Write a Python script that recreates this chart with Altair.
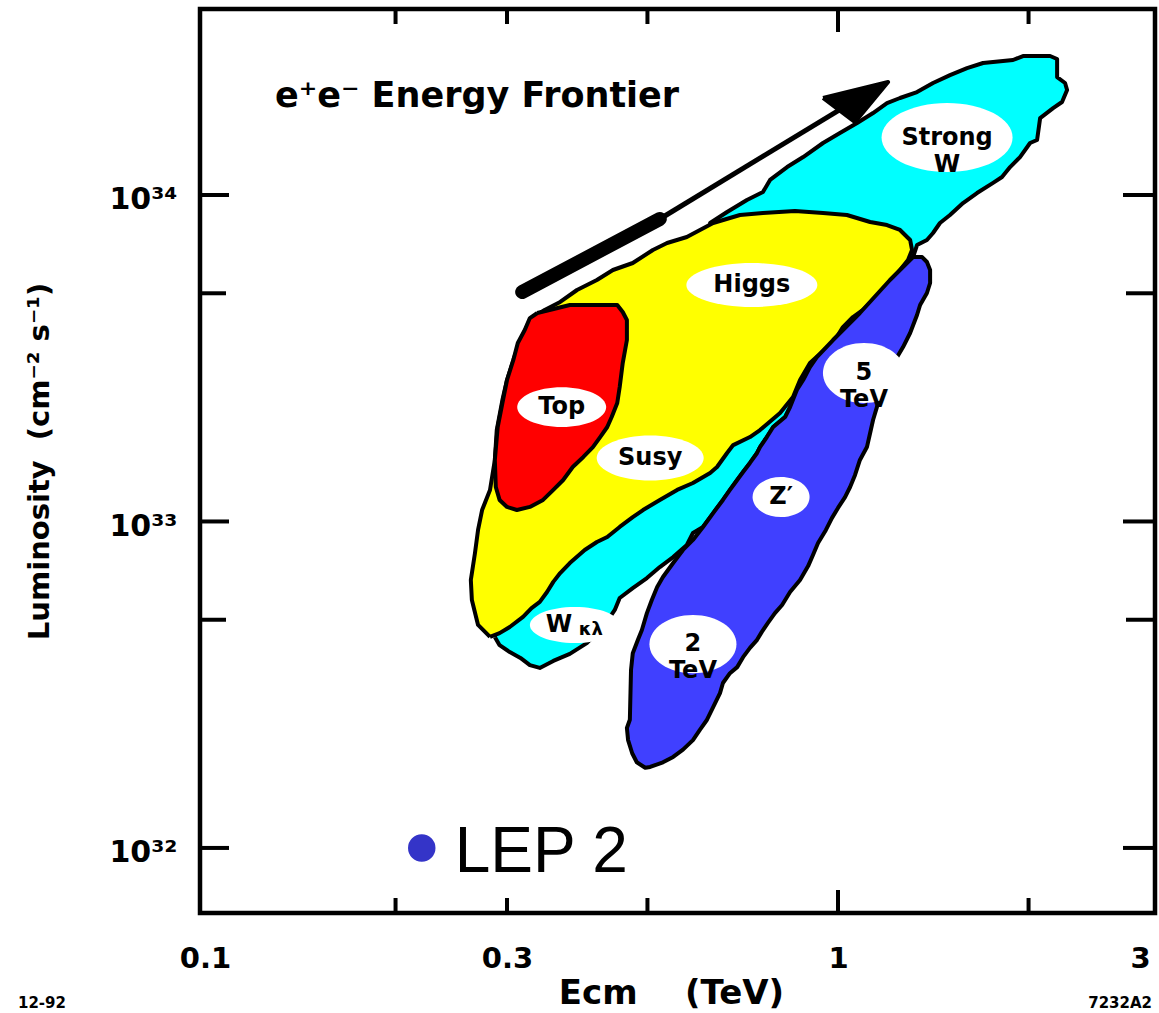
import altair as alt
import pandas as pd

# ---------------- data: E_cm in TeV, luminosity in units of 1e33 cm^-2 s^-1 ----------------
cyan_E = [0.287, 0.292, 0.303, 0.315, 0.326, 0.338, 0.355, 0.377, 0.401, 0.428, 0.444, 0.452,
          0.474, 0.499, 0.523, 0.549, 0.577, 0.590, 0.612, 0.635, 0.658, 0.675, 0.693, 0.708,
          0.726, 0.745, 0.753, 0.772, 0.790, 0.825, 0.840, 0.861, 0.881, 0.903, 0.926, 0.982,
          1.083, 1.208, 1.276, 1.314, 1.333, 1.382, 1.413, 1.449, 1.503, 1.576, 1.658, 1.758,
          1.816, 1.870, 1.939, 2.011, 2.063, 2.086, 2.187, 2.259, 2.301, 2.284, 2.219, 2.219,
          2.163, 1.960, 1.890, 1.695, 1.599, 1.503, 1.413, 1.333, 1.253, 1.195, 1.136, 1.072,
          1.007, 0.947, 0.881, 0.831, 0.781, 0.761, 0.718, 0.668, 0.628, 0.639, 0.421, 0.342,
          0.292]
cyan_L = [0.443, 0.418, 0.398, 0.382, 0.363, 0.356, 0.374, 0.393, 0.424, 0.482, 0.536, 0.583,
          0.625, 0.671, 0.725, 0.778, 0.847, 0.922, 0.962, 1.061, 1.164, 1.249, 1.340, 1.418,
          1.511, 1.621, 1.690, 1.814, 1.947, 2.089, 2.241, 2.528, 2.712, 2.972, 3.189, 3.596,
          4.351, 5.491, 6.102, 6.456, 7.027, 7.281, 7.649, 8.208, 8.682, 9.451, 10.14, 10.89,
          11.35, 12.18, 13.07, 14.43, 14.74, 17.20, 18.46, 19.27, 20.97, 22.03, 22.97, 26.09,
          26.65, 26.65, 25.91, 25.37, 24.48, 23.30, 22.03, 20.67, 19.82, 19.13, 17.83, 16.61,
          15.48, 14.43, 13.07, 12.18, 11.12, 10.21, 9.654, 8.869, 8.208, 7.281, 3.859, 1.656,
          0.575]

yellow_E = [0.282, 0.270, 0.264, 0.263, 0.267, 0.270, 0.274, 0.282, 0.287, 0.289, 0.295, 0.300,
            0.307, 0.315, 0.326, 0.344, 0.364, 0.387, 0.416, 0.441, 0.474, 0.510, 0.537, 0.577,
            0.635, 0.700, 0.761, 0.855, 0.947, 1.033, 1.124, 1.195, 1.253, 1.300, 1.309, 1.290,
            1.253, 1.217, 1.178, 1.136, 1.095, 1.056, 1.018, 0.989, 0.944, 0.903, 0.871, 0.849,
            0.810, 0.753, 0.726, 0.683, 0.668, 0.644, 0.628, 0.590, 0.557, 0.523, 0.492, 0.474,
            0.452, 0.432, 0.416, 0.398, 0.377, 0.364, 0.355, 0.347, 0.338, 0.328, 0.318, 0.303,
            0.292]
yellow_L = [0.443, 0.482, 0.575, 0.662, 0.801, 0.942, 1.084, 1.249, 1.543, 1.906, 2.355, 2.712,
            3.123, 3.596, 4.141, 4.444, 4.702, 5.117, 5.491, 5.892, 6.190, 6.785, 7.128, 7.437,
            8.208, 8.682, 8.807, 8.932, 8.807, 8.682, 8.266, 8.091, 7.813, 7.281, 6.785, 6.323,
            5.892, 5.491, 5.117, 4.769, 4.444, 4.229, 3.940, 3.596, 3.305, 3.057, 2.712, 2.405,
            2.149, 1.906, 1.814, 1.714, 1.621, 1.468, 1.408, 1.312, 1.249, 1.164, 1.084, 1.031,
            0.962, 0.896, 0.865, 0.818, 0.746, 0.695, 0.653, 0.608, 0.567, 0.543, 0.510, 0.475,
            0.455]

red_E = [0.335, 0.377, 0.448, 0.457, 0.464, 0.464, 0.457, 0.452, 0.448, 0.439, 0.432, 0.421,
         0.410, 0.396, 0.381, 0.368, 0.355, 0.342, 0.326, 0.311, 0.300, 0.292, 0.288, 0.287,
         0.290, 0.295, 0.300, 0.307, 0.312, 0.320, 0.326]
red_L = [4.351, 4.603, 4.603, 4.381, 4.141, 3.596, 3.057, 2.581, 2.306, 2.089, 1.947, 1.814,
         1.690, 1.576, 1.468, 1.340, 1.249, 1.164, 1.108, 1.084, 1.108, 1.164, 1.275, 1.543,
         1.947, 2.306, 2.712, 3.123, 3.521, 3.859, 4.198]

blue_E = [1.314, 1.358, 1.382, 1.398, 1.398, 1.382, 1.348, 1.333, 1.300, 1.267, 1.240, 1.195,
          1.152, 1.136, 1.124, 1.111, 1.083, 1.064, 1.045, 1.026, 1.000, 0.978, 0.957, 0.930,
          0.913, 0.897, 0.871, 0.840, 0.816, 0.795, 0.775, 0.758, 0.745, 0.726, 0.708, 0.693,
          0.675, 0.658, 0.651, 0.635, 0.621, 0.605, 0.590, 0.569, 0.549, 0.529, 0.505, 0.496,
          0.481, 0.473, 0.466, 0.464, 0.469, 0.471, 0.474, 0.483, 0.490, 0.499, 0.508, 0.518,
          0.529, 0.549, 0.569, 0.590, 0.612, 0.635, 0.658, 0.675, 0.693, 0.708, 0.726, 0.745,
          0.753, 0.772, 0.790, 0.825, 0.840, 0.861, 0.881, 0.903, 0.926, 0.982, 1.083, 1.208,
          1.276]
blue_L = [6.456, 6.456, 6.234, 5.892, 5.376, 5.010, 4.603, 4.289, 3.778, 3.422, 3.189, 2.655,
          2.241, 2.046, 1.866, 1.690, 1.543, 1.388, 1.275, 1.188, 1.100, 1.024, 0.942, 0.859,
          0.789, 0.730, 0.662, 0.608, 0.555, 0.524, 0.489, 0.459, 0.434, 0.410, 0.384, 0.358,
          0.343, 0.320, 0.298, 0.270, 0.247, 0.230, 0.214, 0.200, 0.190, 0.183, 0.177, 0.176,
          0.183, 0.195, 0.214, 0.233, 0.247, 0.351, 0.395, 0.434, 0.465, 0.524, 0.575, 0.630,
          0.676, 0.746, 0.818, 0.878, 0.962, 1.061, 1.164, 1.249, 1.340, 1.418, 1.511, 1.621,
          1.690, 1.814, 1.947, 2.089, 2.241, 2.528, 2.712, 2.972, 3.189, 3.596, 4.351, 5.491,
          6.102]

label_text = ["Strong\nW", "Higgs", "Top", "Susy", "5\nTeV", "Z\u2032", "2\nTeV"]
label_E = [1.487, 0.731, 0.366, 0.505, 1.099, 0.813, 0.590]
label_L = [15.0, 5.30, 2.24, 1.564, 2.85, 1.188, 0.421]

wkl_E = [0.384]
wkl_L = [0.482]

arrow_thick_E = [0.317, 0.523]
arrow_thick_L = [5.045, 8.443]
arrow_thin_E = [0.523, 1.004]
arrow_thin_L = [8.443, 18.21]
arrow_head_E = [0.947, 1.200, 1.064]
arrow_head_L = [19.82, 22.18, 16.73]

lep_E = [0.22]
lep_L = [0.1]

x_tick_labels = [0.1, 0.3, 1, 3]
x_minor_ticks = [0.2, 0.3, 0.5, 2]
x_major_ticks = [1]
y_major_ticks = [0.1, 1, 10]
y_minor_ticks = [0.5, 5]

# ---------------- styles ----------------
W, H = 955, 904
FONT = "DejaVu Sans"
ell_w = [131, 131, 89, 107, 82, 57, 87]
ell_h = [69, 44, 40, 45, 60, 40, 58]
wkl_w, wkl_h = 90, 36

xscale = alt.Scale(type="log", domain=[0.0982, 3.168], nice=False)
yscale = alt.Scale(type="log", domain=[0.0632, 37.13], nice=False)

xaxis = alt.Axis(values=x_tick_labels, format="~g", labelFlush=False, labelOverlap=False,
                 ticks=False, domain=False, grid=False, labelPadding=31,
                 labelFont=FONT, labelFontWeight="bold", labelFontSize=29, labelColor="black",
                 title="Ecm\u00a0\u00a0\u00a0\u00a0(TeV)", titleFont=FONT, titleFontWeight="bold",
                 titleFontSize=34, titleColor="black", titleX=471, titleY=90,
                 titleAlign="center", titleBaseline="alphabetic")
yaxis = alt.Axis(values=y_major_ticks,
                 labelExpr="datum.value < 0.5 ? '10\u00b3\u00b2' : (datum.value < 5 ? '10\u00b3\u00b3' : '10\u00b3\u2074')",
                 labelOverlap=False, ticks=False, domain=False, grid=False, labelPadding=23,
                 labelFont=FONT, labelFontWeight="bold", labelFontSize=30, labelColor="black",
                 labelOffset=5,
                 title="Luminosity\u00a0\u00a0(cm\u207b\u00b2 s\u207b\u00b9)", titleFont=FONT,
                 titleFontWeight="bold", titleFontSize=29, titleColor="black",
                 titleX=-161, titleY=452, titleAngle=270, titleAlign="center",
                 titleBaseline="middle")


def X(field="E"):
    return alt.X(f"{field}:Q", scale=xscale, axis=xaxis)


def Y(field="L"):
    return alt.Y(f"{field}:Q", scale=yscale, axis=yaxis)


def poly(E, L, fill):
    df = pd.DataFrame({"E": E + [E[0]], "L": L + [L[0]], "i": list(range(len(E) + 1))})
    return alt.Chart(df).mark_line(fill=fill, stroke="black", strokeWidth=4,
                                   strokeJoin="round", interpolate="linear").encode(
        x=X(), y=Y(), order=alt.Order("i:Q"))


def ellipse_path(w, h):
    r = round(h / w, 3)
    return f"M-1,0A1,{r} 0 1,1 1,0A1,{r} 0 1,1 -1,0Z"


layers = [poly(cyan_E, cyan_L, "#00FFFF"),
          poly(yellow_E, yellow_L, "#FFFF00"),
          poly(red_E, red_L, "#FF0000"),
          poly(blue_E, blue_L, "#4040FF")]

ell_df = pd.DataFrame({
    "E": label_E + wkl_E,
    "L": label_L + wkl_L,
    "shape": [ellipse_path(w, h) for w, h in zip(ell_w + [wkl_w], ell_h + [wkl_h])],
    "size": [w * w for w in ell_w + [wkl_w]],
})
layers.append(alt.Chart(ell_df).mark_point(filled=True, opacity=1, strokeWidth=0).encode(
    x=X(), y=Y(), shape=alt.Shape("shape:N", scale=None), size=alt.Size("size:Q", scale=None),
    color=alt.value("white")))

lab_df = pd.DataFrame({"E": label_E, "L": label_L, "t": label_text})
layers.append(alt.Chart(lab_df).mark_text(font=FONT, fontWeight="bold", fontSize=24,
                                          lineBreak="\n", lineHeight=27, align="center",
                                          baseline="middle", color="black").encode(
    x=X(), y=Y(), text="t:N"))

wkl_df = pd.DataFrame({"E": wkl_E, "L": wkl_L, "a": ["W"], "b": ["\u03ba\u03bb"]})
layers.append(alt.Chart(wkl_df).mark_text(font=FONT, fontWeight="bold", fontSize=24, dx=-16,
                                          align="center", baseline="middle", color="black").encode(
    x=X(), y=Y(), text="a:N"))
layers.append(alt.Chart(wkl_df).mark_text(font=FONT, fontWeight="bold", fontSize=18, dx=16, dy=5,
                                          align="center", baseline="middle", color="black").encode(
    x=X(), y=Y(), text="b:N"))

# arrow
thick_df = pd.DataFrame({"E": arrow_thick_E, "L": arrow_thick_L, "i": [0, 1]})
layers.append(alt.Chart(thick_df).mark_line(color="black", strokeWidth=14, strokeCap="round").encode(
    x=X(), y=Y(), order=alt.Order("i:Q")))
thin_df = pd.DataFrame({"E": arrow_thin_E, "L": arrow_thin_L, "i": [0, 1]})
layers.append(alt.Chart(thin_df).mark_line(color="black", strokeWidth=5).encode(
    x=X(), y=Y(), order=alt.Order("i:Q")))
layers.append(poly(arrow_head_E, arrow_head_L, "black"))

# LEP 2
lep_df = pd.DataFrame({"E": lep_E, "L": lep_L, "t": ["LEP 2"]})
layers.append(alt.Chart(lep_df).mark_point(filled=True, shape="circle", size=755, opacity=1,
                                           color="#3434C8").encode(x=X(), y=Y()))
layers.append(alt.Chart(lep_df).mark_text(font="Liberation Sans", fontSize=64, align="left",
                                          baseline="alphabetic", dx=33, dy=24,
                                          color="black").encode(x=X(), y=Y(), text="t:N"))

# inward ticks
xmin_df = pd.DataFrame({"E": x_minor_ticks})
xmaj_df = pd.DataFrame({"E": x_major_ticks})
ymaj_df = pd.DataFrame({"L": y_major_ticks})
ymin_df = pd.DataFrame({"L": y_minor_ticks})
tick_style = dict(color="black", strokeWidth=4)
for df, ln in [(xmin_df, 15), (xmaj_df, 23)]:
    layers.append(alt.Chart(df).mark_rule(**tick_style).encode(
        x=X(), y=alt.value(H - ln), y2=alt.value(H)))
    layers.append(alt.Chart(df).mark_rule(**tick_style).encode(
        x=X(), y=alt.value(0), y2=alt.value(ln)))
for df, ln in [(ymaj_df, 29), (ymin_df, 26)]:
    layers.append(alt.Chart(df).mark_rule(**tick_style).encode(
        y=Y(), x=alt.value(0), x2=alt.value(ln)))
    layers.append(alt.Chart(df).mark_rule(**tick_style).encode(
        y=Y(), x=alt.value(W - ln - 3), x2=alt.value(W)))

# title inside the frame and footnotes
note_df = pd.DataFrame({"t": ["e\u207ae\u207b Energy Frontier"]})
layers.append(alt.Chart(note_df).mark_text(font=FONT, fontWeight="bold", fontSize=35, align="left",
                                           baseline="alphabetic", color="black").encode(
    x=alt.value(75), y=alt.value(98), text="t:N"))
fl_df = pd.DataFrame({"t": ["12-92"]})
layers.append(alt.Chart(fl_df).mark_text(font=FONT, fontWeight="bold", fontSize=15, align="left",
                                         baseline="alphabetic", color="black").encode(
    x=alt.value(-182), y=alt.value(999), text="t:N"))
fr_df = pd.DataFrame({"t": ["7232A2"]})
layers.append(alt.Chart(fr_df).mark_text(font=FONT, fontWeight="bold", fontSize=15, align="right",
                                         baseline="alphabetic", color="black").encode(
    x=alt.value(952), y=alt.value(999), text="t:N"))

chart = alt.layer(*layers).properties(
    width=W, height=H,
    padding={"left": 200, "top": 9, "right": 4, "bottom": 100},
    autosize=alt.AutoSizeParams(type="none"),
    background="white",
).configure_view(stroke="black", strokeWidth=4.5)

chart.save("out.html", embed_options={"renderer": "svg", "actions": False})
